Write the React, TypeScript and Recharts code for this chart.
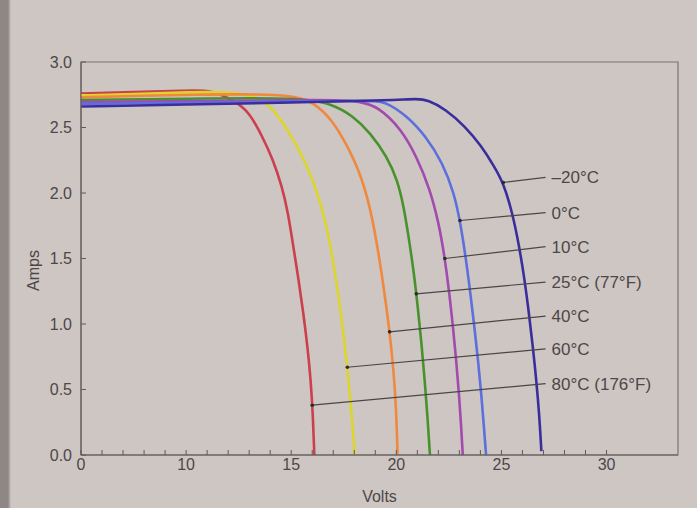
import { LineChart, Line, XAxis, YAxis, ReferenceArea, ReferenceLine, ReferenceDot } from 'recharts';

// x axis is broken: 0-10 V drawn at half scale, 1 V per tick after 10 V
const toAxis = (v: number) => (v < 10 ? v / 2 : v - 5);

const xMajorVolts = [0, 10, 15, 20, 25, 30];
const xTickVolts = [0, 2, 4, 6, 8, 10, 11, 12, 13, 14, 15, 16, 17, 18, 19, 20, 21, 22, 23, 24, 25, 26, 27, 28, 29, 30];
const xMaxVolts = 33.4;
const yTicks = [0, 0.5, 1, 1.5, 2, 2.5, 3];

// I-V curves, one pair of arrays per temperature
const volts80 = [0, 5, 10, 11.18, 12.35, 12.99, 13.63, 14.12, 14.56, 14.85, 15.1, 15.35, 15.58, 15.78, 15.93, 16.03, 16.1];
const amps80 = [2.76, 2.77, 2.78, 2.79, 2.7, 2.62, 2.43, 2.26, 2.05, 1.85, 1.59, 1.34, 1.08, 0.82, 0.57, 0.31, 0];

const volts60 = [0, 5, 10, 13.0, 14.07, 14.8, 15.45, 16.04, 16.44, 16.83, 17.08, 17.33, 17.52, 17.67, 17.82, 17.95, 18.02];
const amps60 = [2.745, 2.755, 2.77, 2.775, 2.66, 2.49, 2.31, 2.1, 1.9, 1.64, 1.39, 1.13, 0.87, 0.67, 0.41, 0.16, 0];

const volts40 = [0, 5, 10, 15.0, 16.09, 16.93, 17.57, 18.27, 18.74, 19.05, 19.3, 19.53, 19.73, 19.88, 19.99, 20.06];
const amps40 = [2.73, 2.74, 2.75, 2.76, 2.69, 2.56, 2.39, 2.16, 1.9, 1.64, 1.39, 1.13, 0.87, 0.62, 0.36, 0];

const volts25 = [0, 10, 15.5, 16.93, 17.92, 18.76, 19.55, 20.05, 20.35, 20.6, 20.83, 21.02, 21.2, 21.35, 21.48, 21.6];
const amps25 = [2.71, 2.72, 2.73, 2.68, 2.59, 2.46, 2.28, 2.1, 1.9, 1.65, 1.4, 1.13, 0.85, 0.57, 0.3, 0];

const volts10 = [0, 10, 17.0, 18.27, 19.13, 20.23, 20.96, 21.6, 22.02, 22.3, 22.52, 22.7, 22.85, 22.98, 23.09, 23.16];
const amps10 = [2.695, 2.7, 2.715, 2.7, 2.66, 2.49, 2.28, 2.03, 1.77, 1.51, 1.24, 0.97, 0.72, 0.47, 0.21, 0];

const volts0 = [0, 10, 18.8, 19.45, 20.5, 21.42, 22.2, 22.75, 23.05, 23.3, 23.52, 23.72, 23.89, 24.04, 24.17, 24.27];
const amps0 = [2.68, 2.69, 2.705, 2.7, 2.59, 2.43, 2.23, 2.0, 1.77, 1.51, 1.24, 0.97, 0.72, 0.47, 0.21, 0];

const voltsM20 = [0, 10, 15, 20, 21.0, 21.5, 22.34, 23.26, 24.04, 24.63, 25.09, 25.52, 25.85, 26.1, 26.31, 26.5, 26.66, 26.8, 26.9];
const ampsM20 = [2.66, 2.675, 2.69, 2.71, 2.72, 2.71, 2.64, 2.51, 2.36, 2.21, 2.08, 1.85, 1.59, 1.34, 1.08, 0.82, 0.57, 0.31, 0.03];

const series = [
  { name: '80°C', volts: volts80, amps: amps80, color: '#cc3f4c' },
  { name: '60°C', volts: volts60, amps: amps60, color: '#dcd62a' },
  { name: '40°C', volts: volts40, amps: amps40, color: '#f0883e' },
  { name: '25°C', volts: volts25, amps: amps25, color: '#48922c' },
  { name: '10°C', volts: volts10, amps: amps10, color: '#a24aae' },
  { name: '0°C', volts: volts0, amps: amps0, color: '#5c6fdc' },
  { name: '-20°C', volts: voltsM20, amps: ampsM20, color: '#3b2e9c' },
];

// callouts: label text, where the label sits (amps) and the point on the curve
const calloutText = ['–20°C', '0°C', '10°C', '25°C (77°F)', '40°C', '60°C', '80°C (176°F)'];
const calloutLabelAmps = [2.12, 1.85, 1.59, 1.32, 1.06, 0.81, 0.545];
const calloutCurveVolts = [25.09, 23.03, 22.31, 20.95, 19.68, 17.67, 16.0];
const calloutCurveAmps = [2.08, 1.79, 1.5, 1.23, 0.94, 0.67, 0.38];
const calloutEndVolts = 27.1;

const textColor = '#4d4747';
const font = '"Liberation Sans", Arial, sans-serif';

export default function App() {
  const xTicks = xTickVolts.map(toAxis);
  const fmtX = (p: number) => {
    const v = p <= 5 ? p * 2 : p + 5;
    const hit = xMajorVolts.find((m) => Math.abs(m - v) < 0.01);
    return hit === undefined ? '' : String(hit);
  };

  return (
    <div
      style={{
        position: 'absolute',
        left: 0,
        top: 0,
        width: 697,
        height: 508,
        background: 'linear-gradient(to right, #8f8785 0px, #8f8785 8px, #cdc6c3 11px)',
        fontFamily: font,
      }}
    >
      <LineChart width={697} height={508} margin={{ top: 62, right: 19, bottom: 23, left: 0 }}>
        <ReferenceArea x1={0} x2={toAxis(xMaxVolts)} y1={0} y2={3} fill="none" stroke="#7a7472" strokeWidth={1.2} />
        <XAxis
          type="number"
          dataKey="p"
          domain={[0, toAxis(xMaxVolts)]}
          ticks={xTicks}
          interval={0}
          tickFormatter={fmtX}
          tickSize={-5}
          tickMargin={9}
          height={30}
          allowDataOverflow
          stroke="#5f5957"
          tick={{ fill: textColor, fontSize: 16, fontFamily: font }}
          label={{ value: 'Volts', position: 'bottom', offset: 6, fill: textColor, fontSize: 16, fontFamily: font }}
        />
        <YAxis
          type="number"
          domain={[0, 3]}
          ticks={yTicks}
          interval={0}
          tickFormatter={(v: number) => v.toFixed(1)}
          tickSize={-5}
          tickMargin={14}
          width={81}
          stroke="#5f5957"
          tick={{ fill: textColor, fontSize: 16, fontFamily: font }}
          label={{
            value: 'Amps',
            content: (props: any) => {
              const vb = props.viewBox;
              const cx = vb.x + 33;
              const cy = vb.y + vb.height / 2 + 12;
              return (
                <text
                  x={cx}
                  y={cy}
                  transform={`rotate(-90 ${cx} ${cy})`}
                  textAnchor="middle"
                  dominantBaseline="central"
                  fill={textColor}
                  fontSize={16}
                  fontFamily={font}
                >
                  Amps
                </text>
              );
            },
          }}
        />
        {series.map((s) => (
          <Line
            key={s.name}
            data={s.volts.map((v, i) => ({ p: toAxis(v), a: s.amps[i] }))}
            dataKey="a"
            type="basis"
            stroke={s.color}
            strokeWidth={2.6}
            dot={false}
            isAnimationActive={false}
          />
        ))}
        {calloutText.map((t, i) => (
          <ReferenceLine
            key={'l' + t}
            segment={[
              { x: toAxis(calloutCurveVolts[i]), y: calloutCurveAmps[i] },
              { x: toAxis(calloutEndVolts), y: calloutLabelAmps[i] },
            ]}
            stroke="#4b4646"
            strokeWidth={1.2}
          />
        ))}
        {calloutText.map((t, i) => (
          <ReferenceDot
            key={'d' + t}
            x={toAxis(calloutCurveVolts[i])}
            y={calloutCurveAmps[i]}
            r={1.8}
            fill="#2e2a2a"
            stroke="none"
          />
        ))}
        {calloutText.map((t, i) => (
          <ReferenceDot
            key={'t' + t}
            x={toAxis(calloutEndVolts)}
            y={calloutLabelAmps[i]}
            r={0}
            fill="none"
            stroke="none"
            label={{ value: t, position: 'right', offset: 6, fill: textColor, fontSize: 17, fontFamily: font }}
          />
        ))}
      </LineChart>
    </div>
  );
}
